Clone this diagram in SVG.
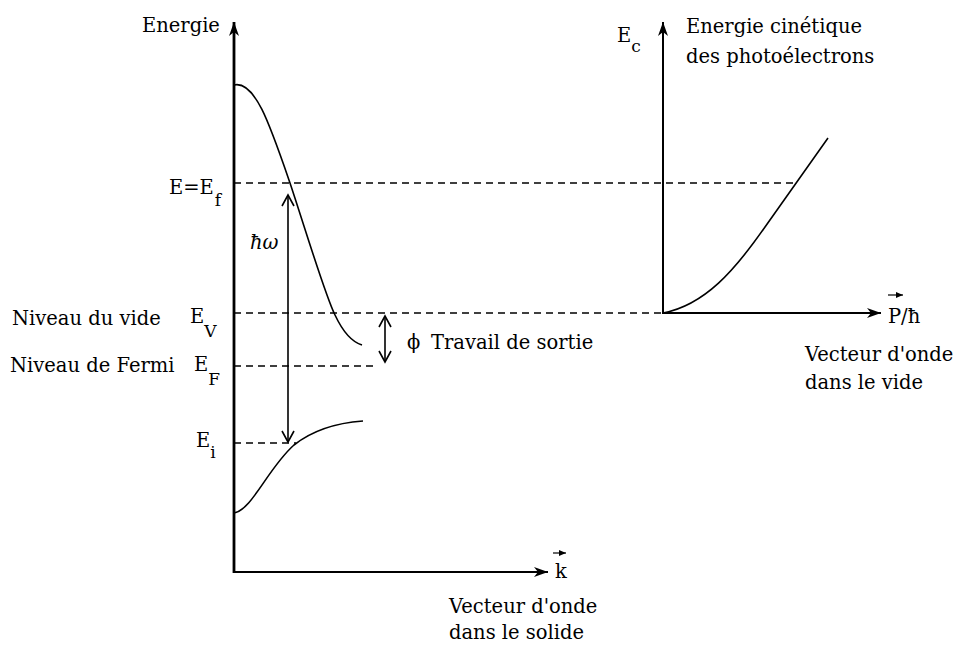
<svg xmlns="http://www.w3.org/2000/svg" width="960" height="650" viewBox="0 0 960 650">
<style>
text{font-family:'DejaVu Serif','Liberation Serif',serif;font-size:19.5px;fill:#000}
.ax{stroke:#000;fill:none}
.dash{stroke:#000;stroke-width:1.3;stroke-dasharray:7,5;fill:none}
.curve{stroke:#000;stroke-width:1.6;fill:none}
.sub{font-size:17px}
</style>
<defs>
<marker id="ah" markerUnits="userSpaceOnUse" markerWidth="16" markerHeight="12" refX="14" refY="6" orient="auto">
<path d="M0,1 L14,6 L0,11 L4,6 z" fill="#000"/>
</marker>
<marker id="sm" markerUnits="userSpaceOnUse" markerWidth="8" markerHeight="6" refX="7" refY="3" orient="auto">
<path d="M0,0 L7,3 L0,6 z" fill="#000"/>
</marker>
<marker id="ch" markerUnits="userSpaceOnUse" markerWidth="14" markerHeight="14" refX="12" refY="7" orient="auto-start-reverse">
<path d="M1,1 L12,7 L1,13" fill="none" stroke="#000" stroke-width="1.6"/>
</marker>
</defs>
<rect width="960" height="650" fill="#fff"/>
<g id="connectors">
<line class="ax" x1="234" y1="573" x2="234" y2="22" stroke-width="2.8" marker-end="url(#ah)"/>
<line class="ax" x1="233" y1="572" x2="548" y2="572" stroke-width="2.2" marker-end="url(#ah)"/>
<line class="ax" x1="663" y1="314" x2="663" y2="22" stroke-width="2" marker-end="url(#ah)"/>
<line class="ax" x1="662" y1="313" x2="881" y2="313" stroke-width="2" marker-end="url(#ah)"/>
<line class="dash" x1="234" y1="183" x2="797" y2="183"/>
<line class="dash" x1="234" y1="313" x2="663" y2="313"/>
<line class="dash" x1="234" y1="366" x2="378" y2="366"/>
<line class="dash" x1="234" y1="443" x2="296" y2="443"/>
<line class="ax" x1="288" y1="195" x2="288" y2="442" stroke-width="1.6" marker-start="url(#ch)" marker-end="url(#ch)"/>
<line class="ax" x1="385" y1="316" x2="385" y2="362" stroke-width="1.6" marker-start="url(#ch)" marker-end="url(#ch)"/>
</g>
<g id="band-upper"><path class="curve" d="M234,85 C255,80 270,125 290,183 C305,228 325,295 335,315 C343,332 352,342 362,345"/></g>
<g id="band-lower"><path class="curve" d="M234,513 C252,510 268,468 294,445 C313,430 335,423 363,421"/></g>
<g id="dispersion-vide"><path class="curve" d="M663,313 C705,305 735,270 765,227 L828,138"/></g>
<g id="labels">
<text x="142" y="32">Energie</text>
<text x="169" y="194">E=E<tspan class="sub" dx="1" dy="12">f</tspan></text>
<text x="250" y="249" font-style="italic">ħω</text>
<text x="12" y="325">Niveau du vide</text>
<text x="190" y="323">E<tspan class="sub" dy="14">V</tspan></text>
<text x="10" y="372">Niveau de Fermi</text>
<text x="194" y="371">E<tspan class="sub" dy="14">F</tspan></text>
<text x="196" y="447">E<tspan class="sub" dy="11">i</tspan></text>
<text x="407" y="349">ϕ</text>
<text x="431" y="349">Travail de sortie</text>
<text x="617" y="42">E<tspan class="sub" dy="10">c</tspan></text>
<text x="686" y="33">Energie cinétique</text>
<text x="686" y="63">des photoélectrons</text>
<text x="888" y="323">P/ħ</text>
<line x1="888" y1="295" x2="903" y2="295" stroke="#000" stroke-width="1.2" marker-end="url(#sm)"/>
<text x="805" y="361">Vecteur d'onde</text>
<text x="805" y="389">dans le vide</text>
<text x="555" y="578">k</text>
<line x1="553" y1="553" x2="566" y2="553" stroke="#000" stroke-width="1.2" marker-end="url(#sm)"/>
<text x="449" y="613">Vecteur d'onde</text>
<text x="449" y="639">dans le solide</text>
</g>
</svg>
